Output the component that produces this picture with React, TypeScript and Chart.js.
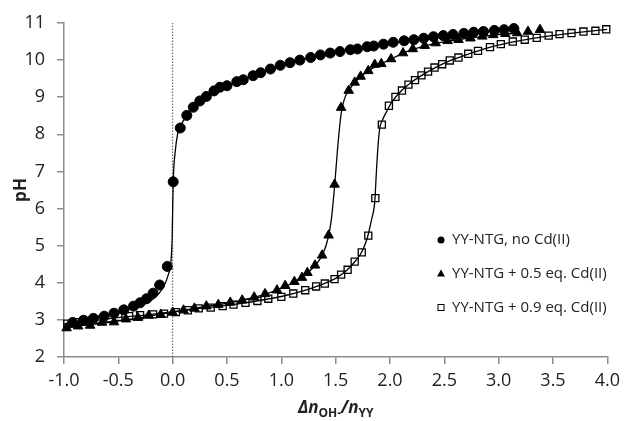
import { useEffect, useRef } from 'react';
import { Chart, registerables } from 'chart.js';

Chart.register(...registerables);

// ---- Data ----
const legendLabels = ['YY-NTG, no Cd(II)', 'YY-NTG + 0.5 eq. Cd(II)', 'YY-NTG + 0.9 eq. Cd(II)'];
const xTicks = [-1.0, -0.5, 0.0, 0.5, 1.0, 1.5, 2.0, 2.5, 3.0, 3.5, 4.0];
const yTicks = [2, 3, 4, 5, 6, 7, 8, 9, 10, 11];

// Measured points: no Cd(II)
const noCdX = [-0.92, -0.82, -0.73, -0.63, -0.54, -0.45, -0.36, -0.30, -0.24, -0.18, -0.12, -0.05, 0.005, 0.07, 0.13, 0.19, 0.25, 0.31, 0.38, 0.435, 0.50, 0.59, 0.65, 0.74, 0.81, 0.90, 0.99, 1.08, 1.17, 1.27, 1.36, 1.45, 1.54, 1.635, 1.70, 1.79, 1.85, 1.94, 2.03, 2.13, 2.22, 2.31, 2.40, 2.49, 2.58, 2.68, 2.77, 2.86, 2.96, 3.05, 3.14];
const noCdY = [2.93, 2.99, 3.04, 3.10, 3.18, 3.27, 3.37, 3.46, 3.57, 3.72, 3.94, 4.44, 6.72, 8.17, 8.51, 8.73, 8.90, 9.02, 9.17, 9.27, 9.31, 9.42, 9.47, 9.58, 9.66, 9.76, 9.86, 9.93, 10.00, 10.07, 10.14, 10.19, 10.23, 10.28, 10.30, 10.36, 10.38, 10.43, 10.48, 10.52, 10.55, 10.59, 10.63, 10.66, 10.69, 10.72, 10.75, 10.77, 10.80, 10.82, 10.85];

// Measured points: + 0.5 eq. Cd(II)
const cd05X = [-0.976, -0.87, -0.76, -0.65, -0.54, -0.43, -0.32, -0.22, -0.11, 0.00, 0.10, 0.20, 0.31, 0.42, 0.53, 0.64, 0.75, 0.85, 0.96, 1.035, 1.12, 1.19, 1.24, 1.31, 1.375, 1.435, 1.49, 1.55, 1.62, 1.675, 1.73, 1.80, 1.86, 1.92, 2.01, 2.12, 2.21, 2.32, 2.42, 2.53, 2.63, 2.74, 2.85, 2.95, 3.06, 3.17, 3.27, 3.38];
const cd05Y = [2.78, 2.83, 2.85, 2.93, 2.94, 3.02, 3.06, 3.12, 3.14, 3.20, 3.26, 3.31, 3.37, 3.41, 3.47, 3.53, 3.61, 3.70, 3.80, 3.92, 4.03, 4.14, 4.27, 4.47, 4.74, 5.28, 6.65, 8.72, 9.18, 9.40, 9.56, 9.71, 9.88, 9.90, 10.03, 10.19, 10.30, 10.39, 10.46, 10.52, 10.55, 10.59, 10.64, 10.68, 10.71, 10.73, 10.77, 10.82];

// Measured points: + 0.9 eq. Cd(II)
const cd09X = [-0.97, -0.87, -0.77, -0.67, -0.58, -0.50, -0.40, -0.30, -0.18, -0.08, 0.03, 0.14, 0.24, 0.35, 0.46, 0.56, 0.67, 0.78, 0.88, 1.00, 1.11, 1.22, 1.32, 1.40, 1.49, 1.55, 1.61, 1.675, 1.74, 1.80, 1.865, 1.925, 1.99, 2.05, 2.11, 2.17, 2.23, 2.29, 2.35, 2.41, 2.48, 2.55, 2.63, 2.72, 2.81, 2.92, 3.02, 3.13, 3.24, 3.35, 3.46, 3.56, 3.67, 3.78, 3.89, 3.99];
const cd09Y = [2.90, 2.94, 2.97, 3.01, 3.04, 3.08, 3.10, 3.13, 3.15, 3.17, 3.21, 3.26, 3.31, 3.33, 3.37, 3.41, 3.46, 3.51, 3.57, 3.62, 3.71, 3.80, 3.90, 3.98, 4.10, 4.22, 4.35, 4.57, 4.82, 5.27, 6.28, 8.26, 8.77, 9.01, 9.18, 9.34, 9.46, 9.59, 9.69, 9.80, 9.89, 9.99, 10.07, 10.17, 10.25, 10.35, 10.43, 10.50, 10.55, 10.60, 10.66, 10.70, 10.73, 10.77, 10.79, 10.83];

// Fitted curves
const fitNoCdX = [-1.0, -0.7, -0.43, -0.25, -0.18, -0.09, -0.04, -0.015, -0.005, 0.0, 0.006, 0.024, 0.045, 0.08, 0.13, 0.2, 0.3, 0.45, 0.65, 0.9, 1.2, 1.5, 1.8, 2.1, 2.4, 2.7, 3.0, 3.14];
const fitNoCdY = [2.88, 3.04, 3.26, 3.44, 3.56, 3.86, 4.22, 4.6, 5.2, 6.0, 6.8, 7.55, 8.0, 8.27, 8.5, 8.74, 8.99, 9.23, 9.48, 9.75, 10.02, 10.21, 10.36, 10.5, 10.62, 10.72, 10.81, 10.85];

const fitCd05X = [-1.0, -0.6, -0.2, 0.2, 0.5, 0.8, 1.0, 1.15, 1.25, 1.32, 1.38, 1.43, 1.46, 1.49, 1.52, 1.55, 1.58, 1.62, 1.7, 1.8, 1.92, 2.05, 2.2, 2.4, 2.6, 2.8, 3.0, 3.18];
const fitCd05Y = [2.80, 2.93, 3.11, 3.31, 3.45, 3.65, 3.85, 4.07, 4.29, 4.5, 4.76, 5.2, 5.7, 6.6, 7.7, 8.55, 8.95, 9.18, 9.47, 9.71, 9.9, 10.09, 10.28, 10.44, 10.54, 10.62, 10.69, 10.73];

const fitCd09X = [-1.0, -0.6, -0.2, 0.2, 0.6, 1.0, 1.2, 1.35, 1.5, 1.6, 1.68, 1.74, 1.79, 1.83, 1.86, 1.875, 1.89, 1.905, 1.93, 1.97, 2.02, 2.1, 2.2, 2.35, 2.5, 2.7, 2.9, 3.1, 3.3, 3.6, 3.8, 4.0];
const fitCd09Y = [2.88, 3.03, 3.15, 3.29, 3.43, 3.63, 3.78, 3.93, 4.12, 4.33, 4.58, 4.83, 5.2, 5.7, 6.2, 7.0, 7.7, 8.15, 8.38, 8.62, 8.88, 9.16, 9.41, 9.69, 9.92, 10.14, 10.33, 10.47, 10.58, 10.7, 10.77, 10.83];

const refLineX = [0, 0];
const refLineY = [2, 11];

const pts = (xs: number[], ys: number[]) => xs.map((x, i) => ({ x, y: ys[i] }));

const TEXT = '#222222';
const AXIS = '#8c8c8c';
const FONT = '"Open Sans", sans-serif';

const overlayPlugin = {
  id: 'overlay',
  afterDraw(chart: any) {
    const ctx: CanvasRenderingContext2D = chart.ctx;
    const { left, right, top, bottom } = chart.chartArea;
    ctx.save();
    ctx.fillStyle = TEXT;
    // Y title
    ctx.save();
    ctx.translate(21, (top + bottom) / 2);
    ctx.rotate(-Math.PI / 2);
    ctx.font = `bold 17px ${FONT}`;
    ctx.textAlign = 'center';
    ctx.textBaseline = 'middle';
    ctx.fillText('pH', 0, 0);
    ctx.restore();

    // X title with subscripts
    const segs = [
      { t: '\u0394n', f: `italic bold 17px ${FONT}`, dy: 0 },
      { t: 'OH-', f: `bold 12px ${FONT}`, dy: 4 },
      { t: '/', f: `italic bold 17px ${FONT}`, dy: 0 },
      { t: 'n', f: `italic bold 17px ${FONT}`, dy: 0 },
      { t: 'YY', f: `bold 12px ${FONT}`, dy: 4 },
    ];
    let total = 0;
    const widths = segs.map((s) => {
      ctx.font = s.f;
      const w = ctx.measureText(s.t).width;
      total += w;
      return w;
    });
    let cx = (left + right) / 2 - total / 2;
    const baseY = 413;
    ctx.textAlign = 'left';
    ctx.textBaseline = 'alphabetic';
    segs.forEach((s, i) => {
      ctx.font = s.f;
      ctx.fillText(s.t, cx, baseY + s.dy);
      cx += widths[i];
    });

    // Legend
    const lx = 441;
    const rows = [240, 273.5, 307.5];
    ctx.font = `15px ${FONT}`;
    ctx.textBaseline = 'middle';
    rows.forEach((ry, i) => {
      ctx.fillStyle = '#000';
      ctx.strokeStyle = '#000';
      ctx.lineWidth = 1;
      if (i === 0) {
        ctx.beginPath();
        ctx.arc(lx, ry, 3.5, 0, Math.PI * 2);
        ctx.fill();
      } else if (i === 1) {
        ctx.beginPath();
        ctx.moveTo(lx, ry - 4);
        ctx.lineTo(lx + 4, ry + 3);
        ctx.lineTo(lx - 4, ry + 3);
        ctx.closePath();
        ctx.fill();
      } else {
        ctx.strokeRect(lx - 3, ry - 3, 6, 6);
      }
      ctx.fillStyle = TEXT;
      ctx.fillText(legendLabels[i], lx + 11, ry);
    });
    ctx.restore();
  },
};

export default function App() {
  const ref = useRef<HTMLCanvasElement | null>(null);
  useEffect(() => {
    if (!ref.current) return;
    const marker = (data: any, style: string, radius: number, fill: string, bw: number) => ({
      type: 'scatter' as const,
      data,
      showLine: false,
      pointStyle: style,
      pointRadius: radius,
      pointHoverRadius: radius,
      pointBackgroundColor: fill,
      pointBorderColor: '#000',
      pointBorderWidth: bw,
      clip: false as any,
    });
    const fit = (data: any) => ({
      type: 'scatter' as const,
      data,
      showLine: true,
      borderColor: '#000',
      borderWidth: 1.3,
      pointRadius: 0,
      cubicInterpolationMode: 'monotone' as const,
      fill: false,
    });
    const chart = new Chart(ref.current, {
      type: 'scatter',
      data: {
        datasets: [
          marker(pts(noCdX, noCdY), 'circle', 5, '#000', 1),
          marker(pts(cd05X, cd05Y), 'triangle', 5.5, '#000', 1),
          marker(pts(cd09X, cd09Y), 'rect', 5, 'rgba(0,0,0,0)', 1.3),
          fit(pts(fitNoCdX, fitNoCdY)),
          fit(pts(fitCd05X, fitCd05Y)),
          fit(pts(fitCd09X, fitCd09Y)),
          {
            type: 'scatter' as const,
            data: pts(refLineX, refLineY),
            showLine: true,
            borderColor: '#555',
            borderWidth: 1,
            borderDash: [1.5, 1.5],
            pointRadius: 0,
          },
        ] as any,
      },
      options: {
        animation: false,
        responsive: false,
        layout: { padding: { left: 0, right: 15, top: 23, bottom: 0 } },
        plugins: { legend: { display: false }, tooltip: { enabled: false } },
        scales: {
          x: {
            type: 'linear',
            min: -1,
            max: 4,
            afterFit: (s: any) => { s.height = 64; },
            afterBuildTicks: (s: any) => { s.ticks = xTicks.map((v) => ({ value: v })); },
            ticks: {
              callback: (v: any) => Number(v).toFixed(1),
              font: { family: FONT, size: 18 },
              color: TEXT,
              padding: 6,
              maxRotation: 0,
            },
            grid: { drawOnChartArea: false, drawTicks: true, tickLength: 7, color: AXIS, lineWidth: 1.5 },
            border: { display: true, color: AXIS, width: 1.5 },
          },
          y: {
            type: 'linear',
            min: 2,
            max: 11,
            afterFit: (s: any) => { s.width = 64; },
            afterBuildTicks: (s: any) => { s.ticks = yTicks.map((v) => ({ value: v })); },
            ticks: {
              font: { family: FONT, size: 18 },
              color: TEXT,
              padding: 12,
            },
            grid: { drawOnChartArea: false, drawTicks: true, tickLength: 7, color: AXIS, lineWidth: 1.5 },
            border: { display: true, color: AXIS, width: 1.5 },
          },
        },
      },
      plugins: [overlayPlugin],
    });
    return () => chart.destroy();
  }, []);
  return (
    <div style={{ position: 'absolute', left: 0, top: 0, width: 626, height: 421, background: '#fff' }}>
      <canvas ref={ref} width={626} height={421} />
    </div>
  );
}
